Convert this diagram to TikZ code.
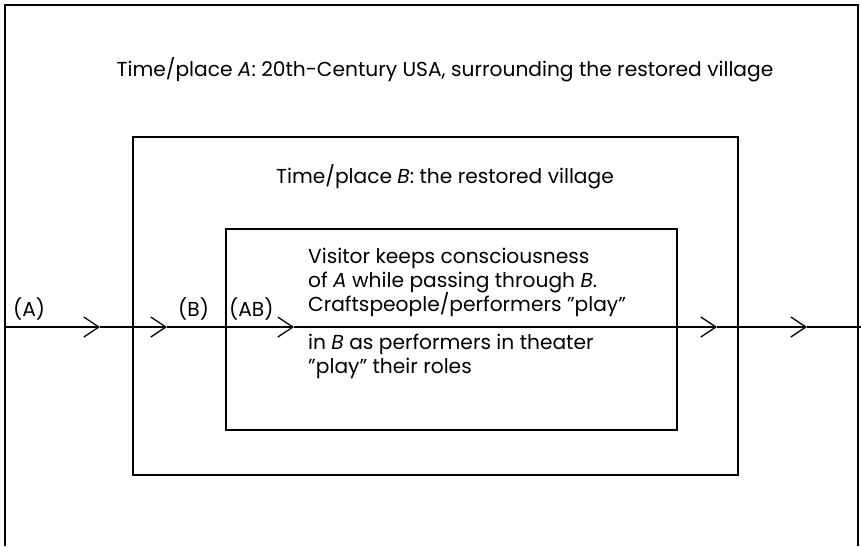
\documentclass[tikz,border=0pt]{standalone}
\usepackage{fontspec}
\setmainfont{Poppins}
\usetikzlibrary{arrows.meta}
\begin{document}
\begin{tikzpicture}[x=1pt,y=-1pt,
  frame/.style={draw=black,line width=1.5pt},
  boxnode/.style={frame,rectangle,inner sep=0pt},
  txt/.style={font=\fontsize{20.2}{24}\selectfont,inner sep=0pt},
  flow/.style={draw=black,line width=1.3pt},
  chev/.style={flow,-{Straight Barb[length=15pt,width=20pt]}}]
\useasboundingbox (0,0) rectangle (861,546);
% outer frame, open at bottom
\coordinate (obl) at (5,546);
\coordinate (otl) at (5,5);
\coordinate (otr) at (858,5);
\coordinate (obr) at (858,546);
\draw[frame,line join=miter] (obl) -- (otl) -- (otr) -- (obr);
% boxes
\node[boxnode,minimum width=605pt,minimum height=338pt] (mid) at (435.5,306) {};
\node[boxnode,minimum width=451pt,minimum height=201pt] (inner) at (451.5,329.5) {};
% titles
\node[txt,anchor=base] (ta) at (445,76) {Time/place \textit{A}: 20th-Century USA, surrounding the restored village};
\node[txt,anchor=base] (tb) at (445,183) {Time/place \textit{B}: the restored village};
% inner text
\node[txt,anchor=base west] (l1) at (308,263) {Visitor keeps consciousness};
\node[txt,anchor=base west] (l2) at (308,287) {of \textit{A} while passing through \textit{B}.};
\node[txt,anchor=base west] (l3) at (308,311) {Craftspeople/performers ''play''};
\node[txt,anchor=base west] (l4) at (308,349) {in \textit{B} as performers in theater};
\node[txt,anchor=base west] (l5) at (308,373) {''play'' their roles};
% labels
\node[txt,anchor=base west] (la) at (13,316) {(A)};
\node[txt,anchor=base west] (lb) at (178,316) {(B)};
\node[txt,anchor=base west] (lab) at (229,316) {(AB)};
% flow line
\coordinate (c0) at (5,327);
\coordinate (t1) at (100,327);
\coordinate (t2) at (167,327);
\coordinate (t3) at (294,327);
\coordinate (t4) at (717,327);
\coordinate (t5) at (807,327);
\coordinate (c6) at (861,327);
\draw[chev] (c0) -- (t1);
\draw[chev] (t1) -- (t2);
\draw[chev] (t2) -- (t3);
\draw[chev] (t3) -- (t4);
\draw[chev] (t4) -- (t5);
\draw[flow] (t5) -- (c6);
\end{tikzpicture}
\end{document}
